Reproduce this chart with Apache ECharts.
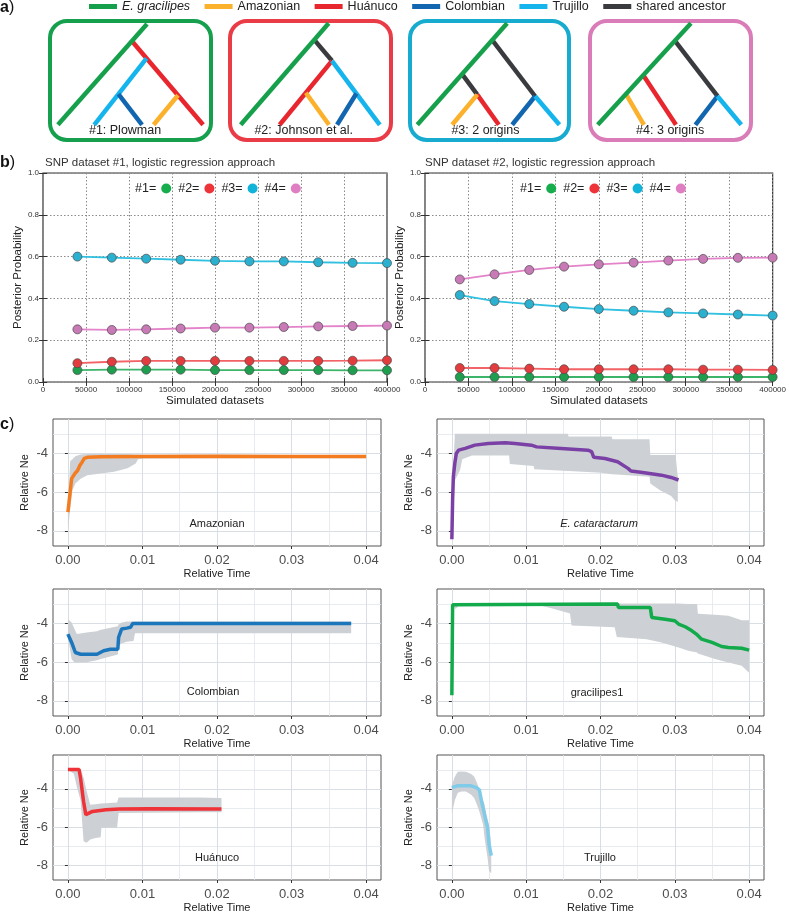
<!DOCTYPE html>
<html><head><meta charset="utf-8">
<script src="https://cdn.jsdelivr.net/npm/echarts@6/dist/echarts.min.js"></script>
<style>html,body{margin:0;padding:0;background:#fff}#c{width:789px;height:914px}</style>
</head><body><div id="c"></div>
<script>
// ================= DATA =================
// panel a: lineages and tree topologies
const lineageNames = ['E. gracilipes', 'Amazonian', 'Huánuco', 'Colombian', 'Trujillo', 'shared ancestor'];
const treeLabels = ['#1: Plowman', '#2: Johnson et al.', '#3: 2 origins', '#4: 3 origins'];
// segments: [lineage, x1, y1, x2, y2] in box fractions (y downward)
const tree1 = [
  [2, 0.508, 0.179, 0.94, 0.86],
  [4, 0.597, 0.32, 0.28, 0.86],
  [3, 0.427, 0.61, 0.57, 0.86],
  [1, 0.788, 0.62, 0.64, 0.86],
  [0, 0.60, 0.04, 0.06, 0.86]
];
const tree2 = [
  [5, 0.523, 0.17, 0.63, 0.34],
  [2, 0.63, 0.34, 0.313, 0.86],
  [4, 0.63, 0.34, 0.92, 0.86],
  [1, 0.472, 0.60, 0.612, 0.86],
  [3, 0.778, 0.606, 0.661, 0.86],
  [0, 0.61, 0.035, 0.077, 0.86]
];
const tree3 = [
  [5, 0.517, 0.171, 0.78, 0.628],
  [5, 0.332, 0.448, 0.425, 0.615],
  [2, 0.425, 0.615, 0.557, 0.86],
  [1, 0.425, 0.615, 0.271, 0.86],
  [3, 0.78, 0.628, 0.639, 0.86],
  [4, 0.78, 0.628, 0.929, 0.86],
  [0, 0.608, 0.035, 0.057, 0.86]
];
const tree4 = [
  [5, 0.527, 0.177, 0.785, 0.628],
  [2, 0.335, 0.457, 0.533, 0.86],
  [1, 0.23, 0.611, 0.339, 0.86],
  [3, 0.785, 0.628, 0.651, 0.86],
  [4, 0.785, 0.628, 0.929, 0.86],
  [0, 0.624, 0.035, 0.059, 0.86]
];

// panel b
const modelNames = ['#1=', '#2=', '#3=', '#4='];
const simX = [40000, 80000, 120000, 160000, 200000, 240000, 280000, 320000, 360000, 400000];
const snp1_m1 = [0.057, 0.059, 0.059, 0.059, 0.057, 0.057, 0.057, 0.057, 0.056, 0.056];
const snp1_m2 = [0.090, 0.097, 0.101, 0.101, 0.101, 0.101, 0.101, 0.101, 0.102, 0.104];
const snp1_m3 = [0.600, 0.595, 0.590, 0.585, 0.580, 0.577, 0.577, 0.573, 0.570, 0.569];
const snp1_m4 = [0.252, 0.249, 0.252, 0.256, 0.260, 0.260, 0.263, 0.266, 0.268, 0.270];
const snp2_m1 = [0.024, 0.024, 0.024, 0.024, 0.024, 0.024, 0.024, 0.024, 0.024, 0.024];
const snp2_m2 = [0.067, 0.067, 0.064, 0.061, 0.061, 0.061, 0.061, 0.059, 0.059, 0.058];
const snp2_m3 = [0.416, 0.387, 0.373, 0.360, 0.349, 0.341, 0.333, 0.328, 0.323, 0.318];
const snp2_m4 = [0.491, 0.515, 0.536, 0.552, 0.563, 0.571, 0.581, 0.589, 0.594, 0.595];
const probTicksInterval = 0.2;
const simTicksInterval = 50000;

// panel c
const timeTicks = [0, 0.01, 0.02, 0.03, 0.04];
const timeMinor = [0.005, 0.015, 0.025, 0.035];
const neTicks = [-8, -6, -4];
const neMinor = [-7, -5, -3];
const cNames = ['Amazonian', 'E. cataractarum', 'Colombian', 'gracilipes1', 'Huánuco', 'Trujillo'];

const amazLine = [[0,-7.03],[0.0005,-5.3],[0.0009,-5.06],[0.0013,-4.88],[0.0016,-4.62],[0.0019,-4.45],[0.0022,-4.25],[0.0026,-4.2],[0.0045,-4.17],[0.01,-4.16],[0.02,-4.15],[0.03,-4.16],[0.04,-4.16]];
const amazBand = [[0,-8.0,-7.0],[0.0003,-6.9,-4.4],[0.0006,-5.9,-4.3],[0.001,-5.55,-4.15],[0.0017,-5.3,-4.05],[0.0026,-5.12,-4.03],[0.0044,-5.03,-4.02],[0.0062,-4.94,-4.03],[0.008,-4.77,-4.03],[0.0091,-4.52,-4.05],[0.0094,-4.3,-4.05],[0.0103,-4.26,-4.07],[0.02,-4.25,-4.07],[0.028,-4.25,-4.08],[0.04,-4.25,-4.08]];

const cataLine = [[0,-8.43],[0.0001,-6.4],[0.0002,-5.2],[0.0004,-4.5],[0.0006,-4.0],[0.0009,-3.83],[0.0018,-3.74],[0.0031,-3.57],[0.0049,-3.48],[0.0072,-3.45],[0.0085,-3.48],[0.0107,-3.57],[0.0114,-3.66],[0.0147,-3.74],[0.0183,-3.83],[0.0188,-3.91],[0.0191,-4.2],[0.0206,-4.26],[0.0223,-4.43],[0.0237,-4.77],[0.0241,-4.91],[0.0259,-5.0],[0.0282,-5.12],[0.0295,-5.24],[0.0305,-5.37]];
const cataBand = [[0,-8.5,-8.3],[0.0002,-6.5,-4.7],[0.0004,-5.4,-2.98],[0.0011,-4.86,-2.98],[0.0014,-4.3,-2.98],[0.0027,-4.1,-2.98],[0.0077,-4.1,-2.98],[0.0078,-4.55,-2.98],[0.011,-4.65,-2.98],[0.0111,-4.82,-2.98],[0.0156,-4.9,-2.98],[0.0157,-4.9,-3.12],[0.0201,-5.0,-3.12],[0.0215,-5.08,-3.12],[0.0216,-5.08,-3.27],[0.0237,-5.12,-3.27],[0.0266,-5.2,-3.27],[0.0267,-5.55,-4.08],[0.028,-5.9,-4.08],[0.0295,-6.2,-4.08],[0.0301,-6.45,-4.08],[0.0304,-6.5,-5.2]];

const colLine = [[0,-4.55],[0.0005,-4.98],[0.001,-5.5],[0.0017,-5.59],[0.0039,-5.59],[0.0048,-5.41],[0.0057,-5.33],[0.0067,-5.33],[0.0068,-4.72],[0.0072,-4.29],[0.0079,-4.24],[0.0084,-4.2],[0.0087,-4.0],[0.038,-4.0]];
const colBand = [[0,-4.7,-3.78],[0.0005,-5.85,-3.95],[0.0009,-6.02,-4.3],[0.0012,-6.02,-4.55],[0.0025,-6.0,-4.47],[0.0039,-5.9,-4.4],[0.0043,-5.85,-4.34],[0.0067,-5.6,-4.15],[0.0068,-5.15,-4.05],[0.0072,-5.03,-3.95],[0.0079,-4.95,-3.9],[0.0088,-4.9,-3.9],[0.009,-4.5,-3.9],[0.038,-4.5,-3.9]];

const gracLine = [[0,-7.71],[0.0001,-3.03],[0.0002,-3.0],[0.0223,-3.0],[0.0224,-3.17],[0.0267,-3.17],[0.0269,-3.69],[0.0287,-3.78],[0.03,-3.86],[0.0305,-4.03],[0.0314,-4.17],[0.0323,-4.38],[0.0329,-4.55],[0.0336,-4.81],[0.035,-4.98],[0.0363,-5.19],[0.0372,-5.24],[0.039,-5.28],[0.04,-5.38]];
const gracBand = [[0,-7.8,-7.6],[0.0002,-3.1,-2.97],[0.0005,-3.25,-2.97],[0.0009,-3.1,-2.97],[0.0012,-3.03,-2.97],[0.0116,-3.05,-2.97],[0.0134,-3.22,-2.97],[0.0159,-3.48,-2.97],[0.0161,-4.1,-2.97],[0.0219,-4.2,-2.97],[0.0222,-4.7,-2.97],[0.0262,-4.81,-2.97],[0.0282,-4.98,-2.97],[0.0305,-5.24,-2.97],[0.0318,-5.41,-3.0],[0.033,-5.5,-3.0],[0.0331,-5.55,-3.5],[0.0354,-5.84,-3.55],[0.0372,-6.02,-3.6],[0.039,-6.19,-3.83],[0.04,-6.55,-3.83]];

const huanLine = [[0,-2.98],[0.0015,-2.98],[0.0017,-3.45],[0.0021,-4.66],[0.0024,-5.35],[0.0026,-5.32],[0.0033,-5.18],[0.0051,-5.09],[0.0069,-5.06],[0.0109,-5.04],[0.0206,-5.06]];
const huanBand = [[0,-3.0,-2.96],[0.0008,-3.2,-2.96],[0.0012,-3.9,-2.96],[0.0017,-4.6,-2.98],[0.0021,-6.74,-3.4],[0.0025,-6.82,-4.1],[0.003,-6.65,-4.83],[0.0037,-6.58,-4.8],[0.0044,-6.53,-4.77],[0.0045,-6.04,-4.77],[0.0066,-6.04,-4.71],[0.0068,-5.26,-4.45],[0.0176,-5.22,-4.45],[0.0206,-5.22,-4.48]];

const trujLine = [[0,-3.93],[0.0008,-3.83],[0.0026,-3.84],[0.0033,-3.93],[0.0037,-4.05],[0.004,-4.66],[0.0044,-5.35],[0.0048,-6.04],[0.005,-6.9],[0.0053,-7.5]];
const trujBand = [[0,-5.3,-3.8],[0.0004,-4.6,-3.36],[0.0008,-4.2,-3.1],[0.0013,-4.14,-3.08],[0.0019,-4.14,-3.1],[0.0026,-4.3,-3.22],[0.003,-4.48,-3.35],[0.0034,-4.85,-3.7],[0.0037,-5.18,-4.05],[0.0042,-5.87,-4.6],[0.0044,-6.57,-4.83],[0.0046,-7.1,-5.26],[0.0048,-7.6,-5.6],[0.005,-8.3,-5.87],[0.0052,-8.4,-6.57],[0.0053,-8.4,-7.43]];

// ================= STYLE / LAYOUT =================
const FONT = '"Liberation Sans", Arial, Helvetica, sans-serif';
const lineageColors = ['#16a04b', '#fbb12b', '#e8262e', '#1266b0', '#15b4ec', '#3a3b3f'];
const boxColors = ['#16a04d', '#ea3c46', '#17abcf', '#da7cb8'];
const boxes = [ {x:48, w:165}, {x:228, w:165}, {x:408, w:163}, {x:588, w:165} ];
const boxTop = 19, boxH = 123;
const labelFx = [0.467, 0.459, 0.475, 0.498];
const trees = [tree1, tree2, tree3, tree4];

const modelLineColors = ['#3cb46a', '#f26266', '#30c0e0', '#e383c9'];
const modelMarkerColors = ['#1f9e4f', '#e23c3e', '#2bb0cf', '#c77ab5'];
const modelLegendColors = ['#16ad4c', '#ee3339', '#12b3d9', '#e07ec4'];

const cLines = [amazLine, cataLine, colLine, gracLine, huanLine, trujLine];
const cBands = [amazBand, cataBand, colBand, gracBand, huanBand, trujBand];
const cColors = ['#f47c20', '#7a40a6', '#1b76bc', '#13aa4b', '#ee3237', '#80cbe8'];
const bandColor = '#cdd1d5';
const colLeft = [53, 437], colW = [328, 327];
const rowTop = [419, 589, 755], rowH = 127;
const cLabelPos = [[217,524],[599,524],[213,692],[597,693],[217,858],[600,858]];

const grid = [], xAxis = [], yAxis = [], series = [], graphic = [];

// ---- panel a trees ----
trees.forEach((tree, ti) => {
  const gi = grid.length;
  grid.push({left: boxes[ti].x, top: boxTop, width: boxes[ti].w, height: boxH, containLabel: false});
  const xi = xAxis.length, yi = yAxis.length;
  xAxis.push({type:'value', gridIndex: gi, min:0, max:1, show:false});
  yAxis.push({type:'value', gridIndex: gi, min:0, max:1, inverse:true, show:false});
  tree.forEach(seg => {
    series.push({
      type:'line', name: lineageNames[seg[0]], xAxisIndex: xi, yAxisIndex: yi,
      data: [[seg[1], seg[2]], [seg[3], seg[4]]],
      symbol:'none', silent:true, z: 3,
      lineStyle:{color: lineageColors[seg[0]], width: 4.5, cap:'butt'},
      itemStyle:{color: lineageColors[seg[0]]}
    });
  });
  graphic.push({type:'rect', z: 1, shape:{x: boxes[ti].x + 2, y: boxTop + 2, width: boxes[ti].w - 4, height: boxH - 4, r: 17},
    style:{fill:'none', stroke: boxColors[ti], lineWidth: 4}});
  graphic.push({type:'text', z: 10, x: boxes[ti].x + labelFx[ti] * boxes[ti].w, y: 131,
    style:{text: treeLabels[ti], font: '12.5px ' + FONT, fill:'#222', textAlign:'center', textVerticalAlign:'middle'}});
});

// ---- panel b ----
const bCharts = [
  {left:43, right:387, title:'SNP dataset #1, logistic regression approach', titleX:45, vals:[snp1_m1, snp1_m2, snp1_m3, snp1_m4], legendLeft:135, nameGap:15},
  {left:425, right:776, title:'SNP dataset #2, logistic regression approach', titleX:425, vals:[snp2_m1, snp2_m2, snp2_m3, snp2_m4], legendLeft:520, nameGap:16}
];
const legends = [{
  data: lineageNames.map((n, i) => ({name:n, itemStyle:{color: lineageColors[i], borderWidth:0}})),
  left: 89, top: 0, padding: 0, icon:'rect', itemWidth: 28, itemHeight: 5, itemGap: 14.5, selectedMode:false,
  formatter: n => n === 'E. gracilipes' ? '{i|' + n + '}' : n,
  textStyle:{fontSize:12.5, color:'#222', fontFamily: FONT, rich:{i:{fontStyle:'italic', fontSize:12.5, color:'#222', fontFamily: FONT}}}
}];
bCharts.forEach(bc => {
  const gi = grid.length;
  grid.push({left: bc.left, top: 173, width: bc.right - bc.left, height: 209, show:true, borderColor:'#333', borderWidth:1.2, backgroundColor:'transparent'});
  const xi = xAxis.length, yi = yAxis.length;
  xAxis.push({type:'value', gridIndex: gi, min:0, max:400000, interval: simTicksInterval,
    axisLine:{show:false}, axisTick:{show:true, inside:true, length:4, lineStyle:{color:'#333'}},
    axisLabel:{fontSize:8, color:'#333', margin:4, fontFamily: FONT, formatter: v => String(v)},
    splitLine:{show:true, lineStyle:{type:[1.5,2], color:'#8a8a8a', width:1}},
    name:'Simulated datasets', nameLocation:'middle', nameGap:9, nameTextStyle:{fontSize:11.5, color:'#222', fontFamily: FONT}});
  xAxis.push({type:'value', gridIndex: gi, position:'top', min:0, max:400000, interval: simTicksInterval,
    axisLine:{show:false}, axisTick:{show:true, inside:true, length:4, lineStyle:{color:'#333'}},
    axisLabel:{show:false}, splitLine:{show:false}});
  yAxis.push({type:'value', gridIndex: gi, min:0, max:1, interval: probTicksInterval,
    axisLine:{show:false}, axisTick:{show:true, inside:true, length:4, lineStyle:{color:'#333'}},
    axisLabel:{fontSize:8, color:'#333', margin:4, fontFamily: FONT, formatter: v => v.toFixed(1)},
    splitLine:{show:true, lineStyle:{type:[1.5,2], color:'#8a8a8a', width:1}},
    name:'Posterior Probability', nameLocation:'middle', nameGap: bc.nameGap, nameTextStyle:{fontSize:11.5, color:'#222', fontFamily: FONT}});
  yAxis.push({type:'value', gridIndex: gi, position:'right', min:0, max:1, interval: probTicksInterval,
    axisLine:{show:false}, axisTick:{show:true, inside:true, length:4, lineStyle:{color:'#333'}},
    axisLabel:{show:false}, splitLine:{show:false}});
  bc.vals.forEach((vals, mi) => {
    series.push({
      type:'line', name: modelNames[mi], xAxisIndex: xi, yAxisIndex: yi,
      data: simX.map((x, k) => [x, vals[k]]),
      symbol:'circle', symbolSize: 9, z: mi === 2 || mi === 3 ? 4 : 3,
      lineStyle:{color: modelLineColors[mi], width: 1.8},
      itemStyle:{color: modelMarkerColors[mi], borderColor:'rgba(70,70,70,0.75)', borderWidth: 0.9}
    });
  });
  legends.push({
    data: modelNames.map((n, i) => ({name:n, itemStyle:{color: modelLegendColors[i], borderWidth:0}})),
    left: bc.legendLeft, top: 182, padding: 0, icon:'circle', itemWidth:10, itemHeight:10, itemGap:7, align:'right', selectedMode:false,
    textStyle:{fontSize:12.5, color:'#222', fontFamily: FONT}
  });
  graphic.push({type:'text', z: 10, x: bc.titleX, y: 163,
    style:{text: bc.title, font: '11.5px ' + FONT, fill:'#333', textAlign:'left', textVerticalAlign:'middle'}});
});

// ---- panel c ----
cNames.forEach((nm, ci) => {
  const col = ci % 2, row = Math.floor(ci / 2);
  const gi = grid.length;
  grid.push({left: colLeft[col], top: rowTop[row], width: colW[col], height: rowH, show:true, borderColor:'#555', borderWidth:1, backgroundColor:'transparent'});
  const xi = xAxis.length, yi = yAxis.length;
  const xr = {min:-0.002, max:0.042}, yr = {min:-8.78, max:-2.22};
  xAxis.push({type:'value', gridIndex: gi, min: xr.min, max: xr.max,
    axisLine:{show:false},
    axisTick:{show:true, length:3, lineStyle:{color:'#333'}, customValues: timeTicks},
    axisLabel:{customValues: timeTicks, fontSize:13, color:'#4d4d4d', margin:8, fontFamily: FONT, formatter: v => v.toFixed(2)},
    splitLine:{show:true, lineStyle:{color:'#d9dee5', width:1}},
    name:'Relative Time', nameLocation:'middle', nameGap:22, nameTextStyle:{fontSize:11, color:'#222', fontFamily: FONT}});
  xAxis.push({type:'value', gridIndex: gi, min: xr.min, max: xr.max, position:'bottom',
    axisLine:{show:false}, axisTick:{show:false, customValues: timeMinor},
    axisLabel:{show:false, customValues: timeMinor},
    splitLine:{show:true, lineStyle:{color:'#e2e6eb', width:0.8}}});
  yAxis.push({type:'value', gridIndex: gi, min: yr.min, max: yr.max,
    axisLine:{show:false},
    axisTick:{show:true, length:3, lineStyle:{color:'#333'}, customValues: neTicks},
    axisLabel:{customValues: neTicks, fontSize:13, color:'#4d4d4d', margin:5, fontFamily: FONT, formatter: v => String(v)},
    splitLine:{show:true, lineStyle:{color:'#d9dee5', width:1}},
    name:'Relative Ne', nameLocation:'middle', nameGap:23, nameTextStyle:{fontSize:11, color:'#222', fontFamily: FONT}});
  yAxis.push({type:'value', gridIndex: gi, min: yr.min, max: yr.max, position:'left',
    axisLine:{show:false}, axisTick:{show:false, customValues: neMinor},
    axisLabel:{show:false, customValues: neMinor},
    splitLine:{show:true, lineStyle:{color:'#e2e6eb', width:0.8}}});
  const band = cBands[ci];
  series.push({type:'custom', name: nm + ' band', xAxisIndex: xi, yAxisIndex: yi, silent:true, z: 2,
    data: band.map(r => [r[0], r[1], r[2]]),
    encode:{x: 0, y: [1, 2]},
    renderItem: (params, api) => {
      if (params.dataIndex !== 0) return null;
      const upper = band.map(r => api.coord([r[0], r[2]]));
      const lower = band.map(r => api.coord([r[0], r[1]])).reverse();
      return {type:'polygon', shape:{points: upper.concat(lower)}, style:{fill: bandColor}};
    }
  });
  series.push({type:'line', name: nm + ' Ne', xAxisIndex: xi, yAxisIndex: yi,
    data: cLines[ci], symbol:'none', silent:true, lineStyle:{color: cColors[ci], width:3.5}, z: 3});
  graphic.push({type:'text', z: 10, x: cLabelPos[ci][0], y: cLabelPos[ci][1],
    style:{text: nm, font: (ci === 1 ? 'italic ' : '') + '11px ' + FONT, fill:'#222', textAlign:'center', textVerticalAlign:'middle'}});
});

// panel letters
[['a', 8], ['b', 163], ['c', 425]].forEach(([l, y]) => {
  graphic.push({type:'text', z: 10, x: 0, y: y,
    style:{text: '{b|' + l + '}{p|)}', textVerticalAlign:'middle', rich:{
      b:{font: 'bold 16px ' + FONT, fill:'#111'}, p:{font: '16px ' + FONT, fill:'#111'}}}});
});

const chart = echarts.init(document.getElementById('c'), null, {renderer:'canvas'});
chart.setOption({
  animation:false,
  backgroundColor:'#fff',
  textStyle:{fontFamily: FONT},
  legend: legends,
  grid, xAxis, yAxis, series, graphic
});
</script>
</body></html>
